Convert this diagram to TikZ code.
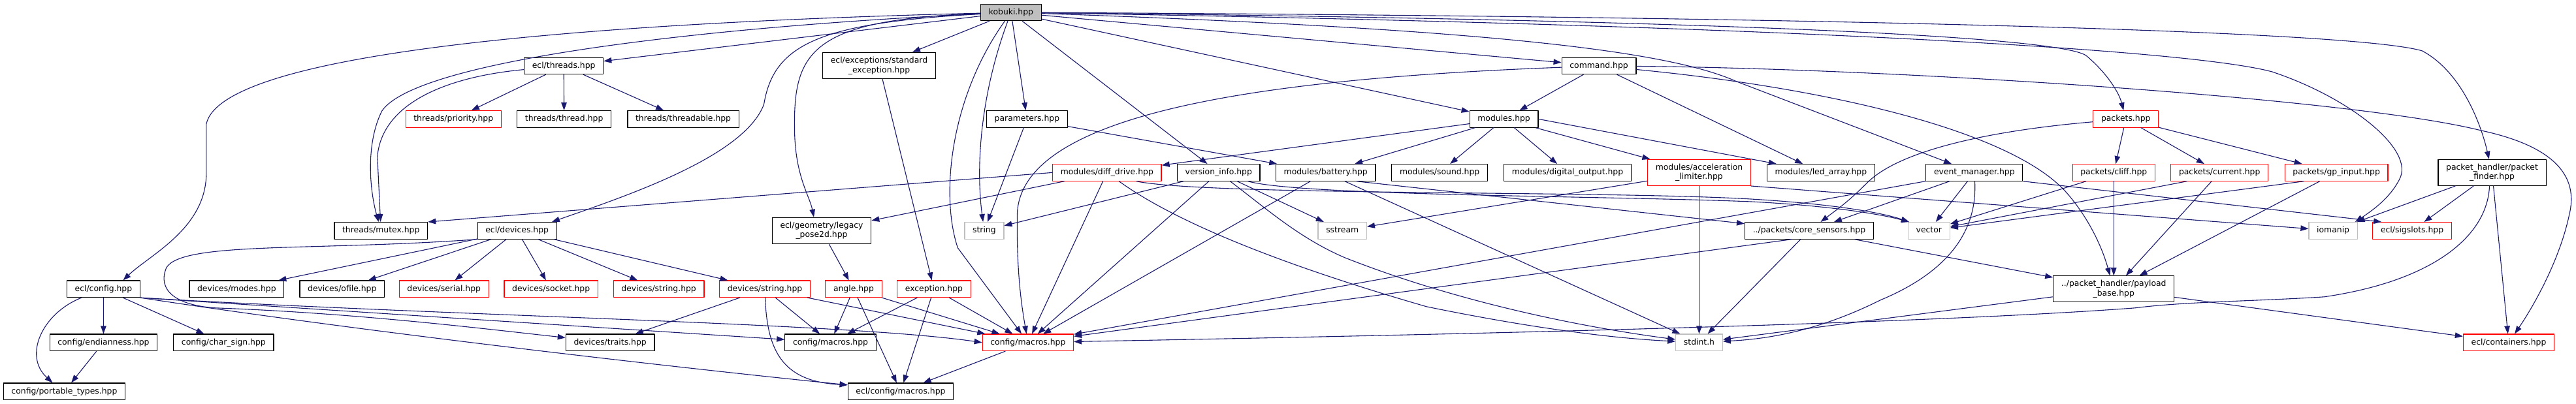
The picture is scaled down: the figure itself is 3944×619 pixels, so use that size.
\documentclass[tikz,border=0pt]{standalone}
\usepackage{fontspec}
\setmainfont{DejaVu Sans}
\usetikzlibrary{arrows.meta}
\definecolor{bleunuit}{RGB}{25,25,112}
\definecolor{gris}{RGB}{191,191,191}

\begin{document}
\begin{tikzpicture}[line cap=round,line join=round,>={Triangle[length=12pt,width=8.5pt]},x=1pt,y=-1pt,
	boite/.style={draw=black,line width=1.2pt,fill=white,inner xsep=12.2pt,inner ysep=0pt,font=\fontsize{12.4}{14.6}\selectfont},
	un/.style={boite,minimum height=25.5pt,text height=9.4pt,text depth=2.9pt},
	deux/.style={boite,align=center,minimum height=40pt},
	tronq/.style={draw=red},
	ext/.style={draw=gris},
	racine/.style={fill=gris},
	lien/.style={->,draw=bleunuit,line width=1.1pt}]
	\fill[white] (0,0) rectangle (3944,619);
	%Rang 0
	\node[un,racine] (kob) at (1548.5,19) {kobuki.hpp};
	%Rang 1
	\node[un] (ethr) at (863.5,101) {ecl/threads.hpp};
	\node[deux] (exstd) at (1346.5,100.5) {ecl/exceptions/standard\\\_exception.hpp};
	\node[un] (cmd) at (2449,101) {command.hpp};
	%Rang 2
	\node[un,tronq] (prio) at (694.5,182.5) {threads/priority.hpp};
	\node[un] (thr) at (864,182.5) {threads/thread.hpp};
	\node[un] (thrd) at (1046.5,182.5) {threads/threadable.hpp};
	\node[un] (param) at (1573,182.5) {parameters.hpp};
	\node[un] (mods) at (2303.5,182.5) {modules.hpp};
	\node[un,tronq] (pkts) at (3256,182.5) {packets.hpp};
	%Rang 3
	\node[un,tronq] (diff) at (1695.5,264.5) {modules/diff\_drive.hpp};
	\node[un] (vinfo) at (1866.5,264.5) {version\_info.hpp};
	\node[un] (batt) at (2030.5,264.5) {modules/battery.hpp};
	\node[un] (sound) at (2205,264.5) {modules/sound.hpp};
	\node[un] (digo) at (2401,264.5) {modules/digital\_output.hpp};
	\node[deux,tronq] (accel) at (2602.5,264.5) {modules/acceleration\\\_limiter.hpp};
	\node[un] (leds) at (2789,264.5) {modules/led\_array.hpp};
	\node[un] (evm) at (3024,264.5) {event\_manager.hpp};
	\node[un,tronq] (cliff) at (3237.5,264.5) {packets/cliff.hpp};
	\node[un,tronq] (curr) at (3399.5,264.5) {packets/current.hpp};
	\node[un,tronq] (gpin) at (3578.5,264.5) {packets/gp\_input.hpp};
	\node[deux] (pfind) at (3817,264.5) {packet\_handler/packet\\\_finder.hpp};
	%Rang 4
	\node[un] (mutex) at (583.5,353.5) {threads/mutex.hpp};
	\node[un] (edev) at (792,353.5) {ecl/devices.hpp};
	\node[deux] (pose) at (1258.5,353.5) {ecl/geometry/legacy\\\_pose2d.hpp};
	\node[un,ext] (str) at (1507.5,353.5) {string};
	\node[un,ext] (sstr) at (2056,353.5) {sstream};
	\node[un] (core) at (2771,353.5) {../packets/core\_sensors.hpp};
	\node[un,ext] (vec) at (2954.5,353.5) {vector};
	\node[un,ext] (ioman) at (3573.5,353.5) {iomanip};
	\node[un,tronq] (sigs) at (3694.5,353.5) {ecl/sigslots.hpp};
	%Rang 5
	\node[un] (ecfg) at (158.5,443) {ecl/config.hpp};
	\node[un] (modes) at (362.5,443) {devices/modes.hpp};
	\node[un] (ofile) at (524,443) {devices/ofile.hpp};
	\node[un,tronq] (serial) at (680,443) {devices/serial.hpp};
	\node[un,tronq] (socket) at (844,443) {devices/socket.hpp};
	\node[un,tronq] (dstra) at (1009,443) {devices/string.hpp};
	\node[un,tronq] (dstrb) at (1171.5,443) {devices/string.hpp};
	\node[un,tronq] (angle) at (1307.5,443) {angle.hpp};
	\node[un,tronq] (exc) at (1430.5,443) {exception.hpp};
	\node[deux] (payl) at (3237.5,443) {../packet\_handler/payload\\\_base.hpp};
	%Rang 6
	\node[un] (endi) at (158.5,525) {config/endianness.hpp};
	\node[un] (chars) at (342.5,525) {config/char\_sign.hpp};
	\node[un] (traits) at (934.5,525) {devices/traits.hpp};
	\node[un] (macn) at (1272,525) {config/macros.hpp};
	\node[un,tronq] (macr) at (1574.5,525) {config/macros.hpp};
	\node[un,ext] (stdint) at (2602.5,525) {stdint.h};
	\node[un,tronq] (cont) at (3842.5,525) {ecl/containers.hpp};
	%Rang 7
	\node[un] (ptypes) at (98.5,600) {config/portable\_types.hpp};
	\node[un] (ecmac) at (1379.5,600) {ecl/config/macros.hpp};
	%Liens de kobuki.hpp
	\draw[lien] (kob) .. controls (900,35) and (340,80) .. (316,190) -- (316,265) .. controls (316,350) and (230,390) .. ([xshift=30pt]ecfg.north);
	\draw[lien] (kob) .. controls (1100,40) and (640,90) .. (585,170) .. controls (560,220) and (566,290) .. (mutex);
	\draw[lien] (kob) -- (ethr);
	\draw[lien] (kob) .. controls (1250,35) and (1185,70) .. (1170,160) .. controls (1140,240) and (960,300) .. ([xshift=-8pt]edev.north east);
	\draw[lien] (kob) -- (exstd);
	\draw[lien] (kob) .. controls (1240,30) and (1215,80) .. (1217,200) .. controls (1218,270) and (1240,300) .. ([xshift=-12pt]pose.north);
	\draw[lien] (kob) .. controls (1455,150) and (1440,300) .. (1467,380) -- (macr);
	\draw[lien] (kob) .. controls (1500,150) and (1495,260) .. (str);
	\draw[lien] (kob) -- (param);
	\draw[lien] (kob) -- (vinfo);
	\draw[lien] (kob) -- (mods);
	\draw[lien] (kob) -- (cmd);
	\draw[lien] (kob) .. controls (2300,45) and (2560,80) .. (2660,125) -- (evm);
	\draw[lien] (kob) .. controls (2600,30) and (3150,55) .. (3195,85) .. controls (3225,110) and (3245,140) .. (pkts);
	\draw[lien] (kob) .. controls (2700,25) and (3600,45) .. (3710,78) .. controls (3770,110) and (3800,190) .. (pfind);
	\draw[lien] (kob) .. controls (2700,38) and (3350,75) .. (3480,110) .. controls (3600,150) and (3700,230) .. (3675,275) .. controls (3660,305) and (3630,325) .. ([xshift=-4pt]ioman.north east);
	%ecl/threads.hpp
	\draw[lien] (ethr) -- (prio);
	\draw[lien] (ethr) -- (thr);
	\draw[lien] (ethr) -- (thrd);
	\draw[lien] (ethr) .. controls (680,118) and (585,160) .. (578,240) -- (mutex);
	%standard_exception
	\draw[lien] (exstd) -- (exc);
	%parameters.hpp
	\draw[lien] (param) -- (str);
	\draw[lien] (param) -- (batt);
	%command.hpp
	\draw[lien] (cmd) -- (mods);
	\draw[lien] (cmd) -- (leds);
	\draw[lien] (cmd) .. controls (1950,120) and (1560,170) .. (1558,330) .. controls (1557,420) and (1565,470) .. (macr);
	\draw[lien] (cmd) .. controls (2900,105) and (3600,150) .. (3800,200) .. controls (3940,230) and (3945,290) .. (3935,330) .. controls (3920,400) and (3880,470) .. (cont);
	\draw[lien] (cmd) .. controls (2800,135) and (3080,200) .. (3165,295) .. controls (3200,335) and (3220,380) .. (payl);
	%modules.hpp
	\draw[lien] (mods) -- (diff);
	\draw[lien] (mods) -- (batt);
	\draw[lien] (mods) -- (sound);
	\draw[lien] (mods) -- (digo);
	\draw[lien] (mods) -- (accel);
	\draw[lien] (mods.east) -- ([xshift=15pt]leds.north west);
	%packets.hpp
	\draw[lien] (pkts) -- (cliff);
	\draw[lien] (pkts) -- (curr);
	\draw[lien] (pkts) -- (gpin);
	\draw[lien] (pkts) .. controls (3050,200) and (2910,230) .. (2860,280) .. controls (2830,310) and (2815,320) .. (core);
	%modules/diff_drive.hpp
	\draw[lien] (diff.west) -- (mutex.north east);
	\draw[lien] (diff) -- (pose);
	\draw[lien] (diff) -- (macr);
	\draw[lien] (diff) .. controls (1800,340) and (1960,405) .. (2185,470) .. controls (2380,510) and (2500,520) .. (stdint);
	\draw[lien] ([xshift=45pt]diff.south) .. controls (1850,300) and (2450,292) .. (2680,305) .. controls (2800,312) and (2880,325) .. ([xshift=2pt]vec.north west);
	%version_info.hpp
	\draw[lien] (vinfo) -- (str);
	\draw[lien] (vinfo) -- (macr);
	\draw[lien] (vinfo) -- (sstr);
	\draw[lien] (vinfo) .. controls (1940,320) and (1990,365) .. (2060,395) .. controls (2250,470) and (2450,505) .. (stdint);
	\draw[lien] ([xshift=45pt]vinfo.south) .. controls (1990,300) and (2450,300) .. (2680,309) .. controls (2800,315) and (2880,328) .. ([xshift=2pt]vec.north west);
	%modules/battery.hpp
	\draw[lien] (batt) -- (macr);
	\draw[lien] (batt) -- (stdint);
	\draw[lien] ([xshift=47pt]batt.south) -- (core);
	%modules/acceleration_limiter.hpp
	\draw[lien] (accel) -- (sstr);
	\draw[lien] (accel) -- (stdint);
	\draw[lien] (accel.south east) -- (ioman);
	%event_manager.hpp
	\draw[lien] (evm) -- (macr);
	\draw[lien] (evm) -- (core);
	\draw[lien] (evm) -- (vec);
	\draw[lien] (evm) .. controls (3028,340) and (3000,410) .. (2880,460) .. controls (2780,510) and (2700,520) .. (stdint);
	\draw[lien] (evm.south east) -- ([xshift=14pt]sigs.north west);
	%packets/...
	\draw[lien] (cliff) -- (vec);
	\draw[lien] (cliff) -- (payl);
	\draw[lien] ([xshift=-50pt]curr.south) -- (vec);
	\draw[lien] (curr) -- (payl);
	\draw[lien] ([xshift=-50pt]gpin.south) -- (vec);
	\draw[lien] (gpin) -- (payl);
	%packet_finder.hpp
	\draw[lien] (pfind) -- (ioman);
	\draw[lien] (pfind) -- (sigs);
	\draw[lien] ([xshift=-4pt]pfind.south) .. controls (3810,360) and (3730,430) .. (3560,455) .. controls (3450,462) and (3350,462) .. (3270,472) .. controls (2900,500) and (2000,517) .. (macr);
	\draw[lien] (pfind) -- (cont);
	%core_sensors.hpp
	\draw[lien] ([xshift=-27pt]core.south) -- (macr);
	\draw[lien] (core) -- (stdint);
	\draw[lien] (core) -- (payl);
	%payload_base.hpp
	\draw[lien] (payl) -- (stdint);
	\draw[lien] (payl) -- (cont);
	%macros
	\draw[lien] (macr) -- (ecmac);
	\draw[lien] (angle) -- (macn);
	\draw[lien] (angle) -- (ecmac);
	\draw[lien] (angle) -- (macr);
	\draw[lien] (exc) -- (macn);
	\draw[lien] (exc) -- (ecmac);
	\draw[lien] (exc) -- (macr);
	\draw[lien] (pose) -- (angle);
	%devices/string.hpp
	\draw[lien] (dstrb) -- (traits);
	\draw[lien] (dstrb) -- (macn);
	\draw[lien] (dstrb) -- (macr);
	\draw[lien] (dstrb) .. controls (1175,540) and (1200,585) .. ([yshift=10pt]ecmac.west);
	%ecl/devices.hpp
	\draw[lien] (edev) -- (modes);
	\draw[lien] (edev) -- (ofile);
	\draw[lien] (edev) -- (serial);
	\draw[lien] (edev) -- (socket);
	\draw[lien] (edev) -- (dstra);
	\draw[lien] (edev) -- (dstrb);
	\draw[lien] (edev.south west) .. controls (480,385) and (280,370) .. (255,410) .. controls (240,445) and (270,468) .. (330,472) .. controls (550,480) and (750,505) .. (traits);
	%ecl/config.hpp
	\draw[lien] (ecfg) .. controls (65,480) and (35,545) .. ([xshift=-18pt]ptypes.north);
	\draw[lien] (ecfg) -- (endi);
	\draw[lien] (ecfg) -- (chars);
	\draw[lien] (ecfg.south east) -- (macn);
	\draw[lien] (ecfg.south east) .. controls (700,485) and (1300,495) .. (macr.west);
	\draw[lien] (ecfg.south east) .. controls (600,515) and (1100,570) .. ([yshift=10pt]ecmac.west);
	\draw[lien] (endi) -- (ptypes);
\end{tikzpicture}
\end{document}
